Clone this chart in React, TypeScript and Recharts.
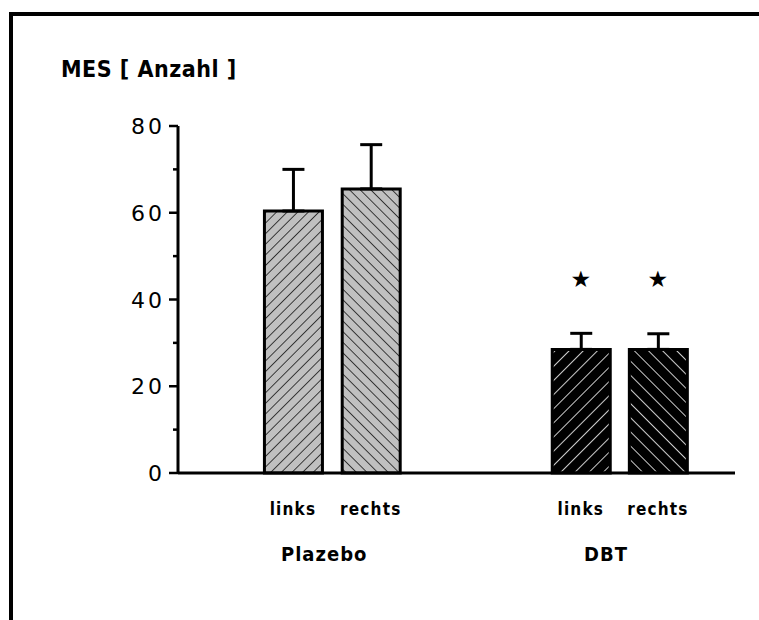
import { ComposedChart, Bar, Line, XAxis, YAxis, ErrorBar, Cell } from 'recharts';

const barLabels = ['links', 'rechts', 'links', 'rechts'];
const groupLabels = ['Plazebo', 'DBT'];
const barPositions = [0.865, 1.45, 3.03, 3.61];
const groupPositions = [1.1, 3.22];
const means = [60.4, 65.5, 28.5, 28.5];
const errors = [9.6, 10.2, 3.7, 3.6];
const stars = [null, null, 44.7, 44.7];
const yTicks = [0, 10, 20, 30, 40, 50, 60, 70, 80];
const xTicks = [0, 1, 2, 3, 4];

const fills = ['url(#grayFwd)', 'url(#grayBack)', 'url(#blackFwd)', 'url(#blackBack)'];

const data = barPositions.map((x, i) => ({
  x,
  mean: means[i],
  err: [0, errors[i]],
  star: stars[i],
}));

const labelFont = '"DejaVu Sans Condensed", "DejaVu Sans", sans-serif';

const YTick = (props: any) => {
  const { x, y, payload } = props;
  const major = payload.value % 20 === 0;
  return (
    <g>
      <line x1={x - (major ? 9 : 5)} x2={x} y1={y} y2={y} stroke="#000" strokeWidth={2.5} />
      {major && (
        <text
          x={x - 13}
          y={y}
          dy={8}
          textAnchor="end"
          fontFamily='"DejaVu Sans", sans-serif'
          fontSize={22}
          letterSpacing={3}
          fill="#000"
        >
          {payload.value}
        </text>
      )}
    </g>
  );
};

const LabelTick = (props: any) => {
  const { x, y, payload } = props;
  const bi = barPositions.indexOf(payload.value);
  if (bi >= 0) {
    return (
      <text x={x} y={y} dy={24} textAnchor="middle" fontFamily={labelFont} fontWeight="bold" fontSize={17} letterSpacing={1.2} fill="#000">
        {barLabels[bi]}
      </text>
    );
  }
  const gi = groupPositions.indexOf(payload.value);
  return (
    <text x={x} y={y} dy={70} textAnchor="middle" fontFamily={labelFont} fontWeight="bold" fontSize={20} letterSpacing={1} fill="#000">
      {groupLabels[gi]}
    </text>
  );
};

const StarDot = (props: any) => {
  const { cx, cy, value, index } = props;
  if (value == null) return <g key={index} />;
  return (
    <text key={index} x={cx} y={cy} dy={8} textAnchor="middle" fontFamily='"DejaVu Sans", sans-serif' fontSize={23} fill="#000">
      ★
    </text>
  );
};

export default function App() {
  return (
    <div style={{ position: 'absolute', left: 0, top: 0, width: 759, height: 620, overflow: 'hidden', background: '#fff' }}>
      <div
        style={{
          position: 'absolute',
          left: 9,
          top: 12,
          width: 750,
          height: 608,
          boxSizing: 'border-box',
          borderTop: '4px solid #000',
          borderLeft: '4px solid #000',
        }}
      />
      <div
        style={{
          position: 'absolute',
          left: 61,
          top: 56,
          fontFamily: labelFont,
          fontWeight: 'bold',
          fontSize: 23,
          letterSpacing: 0.5,
          color: '#000',
          whiteSpace: 'pre',
        }}
      >
        MES [ Anzahl ]
      </div>
      <div style={{ position: 'absolute', left: 0, top: 0 }}>
        <ComposedChart width={759} height={620} data={data} margin={{ top: 126, right: 24, left: 118, bottom: 0 }}>
          <defs>
            <pattern id="grayFwd" width={7.5} height={7.5} patternUnits="userSpaceOnUse" patternTransform="rotate(45)">
              <rect width={7.5} height={7.5} fill="#c0c0c0" />
              <line x1={0} y1={0} x2={0} y2={7.5} stroke="#000" strokeWidth={1.4} />
            </pattern>
            <pattern id="grayBack" width={7.5} height={7.5} patternUnits="userSpaceOnUse" patternTransform="rotate(-45)">
              <rect width={7.5} height={7.5} fill="#c0c0c0" />
              <line x1={0} y1={0} x2={0} y2={7.5} stroke="#000" strokeWidth={1.4} />
            </pattern>
            <pattern id="blackFwd" width={10} height={10} patternUnits="userSpaceOnUse" patternTransform="rotate(45)">
              <rect width={10} height={10} fill="#000" />
              <line x1={0} y1={0} x2={0} y2={10} stroke="#fff" strokeWidth={1.6} />
            </pattern>
            <pattern id="blackBack" width={10} height={10} patternUnits="userSpaceOnUse" patternTransform="rotate(-45)">
              <rect width={10} height={10} fill="#000" />
              <line x1={0} y1={0} x2={0} y2={10} stroke="#fff" strokeWidth={1.6} />
            </pattern>
          </defs>
          <XAxis
            dataKey="x"
            type="number"
            domain={[0, 4.19]}
            allowDataOverflow
            ticks={xTicks}
            tick={false}
            tickSize={5}
            height={10}
            axisLine={{ stroke: '#000', strokeWidth: 3 }}
            tickLine={{ stroke: '#000', strokeWidth: 1.5 }}
          />
          <XAxis
            xAxisId="lab"
            dataKey="x"
            type="number"
            domain={[0, 4.19]}
            allowDataOverflow
            ticks={[...barPositions, ...groupPositions]}
            interval={0}
            tick={<LabelTick />}
            tickLine={false}
            axisLine={false}
            height={137}
          />
          <YAxis
            type="number"
            domain={[0, 80]}
            ticks={yTicks}
            interval={0}
            width={60}
            tickSize={0}
            tickMargin={0}
            tickLine={false}
            tick={<YTick />}
            axisLine={{ stroke: '#000', strokeWidth: 3 }}
          />
          <Bar dataKey="mean" barSize={58} stroke="#000" strokeWidth={3} isAnimationActive={false}>
            {data.map((d, i) => (
              <Cell key={i} fill={fills[i]} />
            ))}
            <ErrorBar dataKey="err" direction="y" width={11} stroke="#000" strokeWidth={3} />
          </Bar>
          <Line dataKey="star" stroke="none" dot={<StarDot />} activeDot={false} isAnimationActive={false} />
        </ComposedChart>
      </div>
    </div>
  );
}
